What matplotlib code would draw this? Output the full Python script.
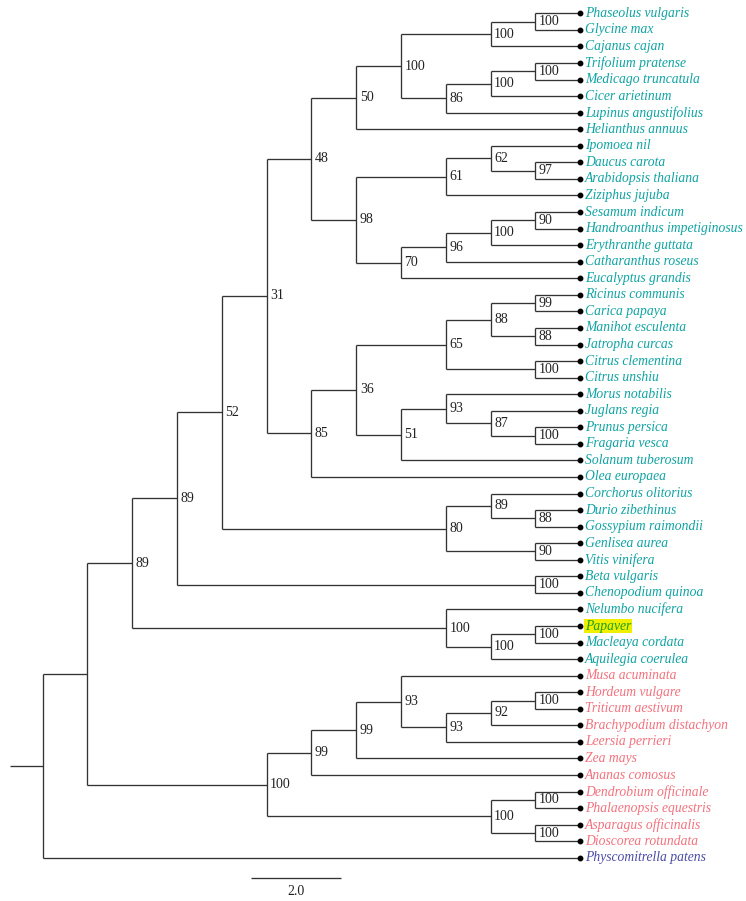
"""
Cladogram of plant species with bootstrap support values.
"""

import matplotlib.pyplot as plt

# clades as newick pieces (support value after each closing bracket)
legumes = ("(((Phaseolus vulgaris,Glycine max)100,Cajanus cajan)100,"
           "(((Trifolium pratense,Medicago truncatula)100,Cicer arietinum)100,"
           "Lupinus angustifolius)86)100")
c50 = f"({legumes},Helianthus annuus)50"
c61 = "((Ipomoea nil,(Daucus carota,Arabidopsis thaliana)97)62,Ziziphus jujuba)61"
c70 = ("((((Sesamum indicum,Handroanthus impetiginosus)90,Erythranthe guttata)100,"
       "Catharanthus roseus)96,Eucalyptus grandis)70")
c48 = f"({c50},({c61},{c70})98)48"
c65 = ("(((Ricinus communis,Carica papaya)99,(Manihot esculenta,Jatropha curcas)88)88,"
       "(Citrus clementina,Citrus unshiu)100)65")
c51 = ("((Morus notabilis,(Juglans regia,(Prunus persica,Fragaria vesca)100)87)93,"
       "Solanum tuberosum)51")
c85 = f"(({c65},{c51})36,Olea europaea)85"
c80 = ("((Corchorus olitorius,(Durio zibethinus,Gossypium raimondii)88)89,"
       "(Genlisea aurea,Vitis vinifera)90)80")
c89a = f"((({c48},{c85})31,{c80})52,(Beta vulgaris,Chenopodium quinoa)100)89"
c_papaver = "(Nelumbo nucifera,((Papaver,Macleaya cordata)100,Aquilegia coerulea)100)100"
monocots = ("((((Musa acuminata,(((Hordeum vulgare,Triticum aestivum)100,"
            "Brachypodium distachyon)92,Leersia perrieri)93)93,Zea mays)99,Ananas comosus)99,"
            "((Dendrobium officinale,Phalaenopsis equestris)100,"
            "(Asparagus officinalis,Dioscorea rotundata)100)100)100")
tree_str = f"((({c89a},{c_papaver})89,{monocots}),Physcomitrella patens);"

monocot_names = ["Musa acuminata", "Hordeum vulgare", "Triticum aestivum",
                 "Brachypodium distachyon", "Leersia perrieri", "Zea mays",
                 "Ananas comosus", "Dendrobium officinale", "Phalaenopsis equestris",
                 "Asparagus officinalis", "Dioscorea rotundata"]
outgroup_names = ["Physcomitrella patens"]
highlight_names = ["Papaver"]

scale_length = 2.0


def parse(s, i=0):
    """Tiny newick parser -> dict nodes."""
    node = {"children": [], "label": ""}
    if s[i] == "(":
        i += 1
        while True:
            child, i = parse(s, i)
            node["children"].append(child)
            if s[i] == ",":
                i += 1
            else:
                i += 1  # ')'
                break
    j = i
    while s[j] not in ",);":
        j += 1
    node["label"] = s[i:j]
    return node, j


def layout(node, counter):
    # leaves get consecutive rows, internal nodes sit at the middle of their children
    if not node["children"]:
        node["y"] = counter[0]
        counter[0] += 1
        node["h"] = 0
    else:
        for c in node["children"]:
            layout(c, counter)
        node["h"] = 1 + max(c["h"] for c in node["children"])
        node["y"] = (node["children"][0]["y"] + node["children"][-1]["y"]) / 2


root, _ = parse(tree_str)
counter = [0]
layout(root, counter)
n_leaves = counter[0]
depth = root["h"]


def X(n):
    # root at x = 0, all leaves aligned at x = depth
    return depth - n["h"]


fig = plt.figure(figsize=(7.46, 9.01), dpi=100)
ax = fig.add_axes([0, 0, 1, 1])
ax.set_xlim(-42.6 / 44.8, (746 - 42.6) / 44.8)
ax.set_ylim((901 - 13.3) / 16.56, -13.3 / 16.56)
ax.axis("off")

line_kw = dict(color="#333333", lw=0.95, solid_capstyle="butt")
teal = "#10A3A3"
pink = "#F2727F"
blue = "#4A4AA6"


def draw(node):
    if not node["children"]:
        ax.plot(X(node), node["y"], "o", color="black", ms=3.2)
        name = node["label"]
        color = teal
        bbox = None
        if name in monocot_names:
            color = pink
        elif name in outgroup_names:
            color = blue
        elif name in highlight_names:
            color = "#1E9E1E"
            bbox = dict(facecolor="#EEF000", edgecolor="none", pad=0.6)
        ax.text(X(node) + 0.11, node["y"], name, fontsize=9.8, style="italic",
                family="Liberation Serif", color=color, va="center", ha="left",
                bbox=bbox)
        return
    kids = node["children"]
    ax.plot([X(node), X(node)], [kids[0]["y"], kids[-1]["y"]], **line_kw)
    for c in kids:
        ax.plot([X(node), X(c)], [c["y"], c["y"]], **line_kw)
        draw(c)
    if node["label"]:
        ax.text(X(node) + 0.08, node["y"], node["label"], fontsize=10,
                family="Liberation Serif", color="#222222", va="center", ha="left")


draw(root)
# root stub
ax.plot([X(root) - 0.73, X(root)], [root["y"], root["y"]], **line_kw)

# scale bar
sb_x = 4.65
sb_y = n_leaves + 0.2
ax.plot([sb_x, sb_x + scale_length], [sb_y, sb_y], **line_kw)
ax.text(sb_x + scale_length / 2, sb_y + 0.85, f"{scale_length:.1f}", fontsize=10,
        family="Liberation Serif", color="#222222", ha="center", va="center")

fig.savefig("out.png", dpi=100)
